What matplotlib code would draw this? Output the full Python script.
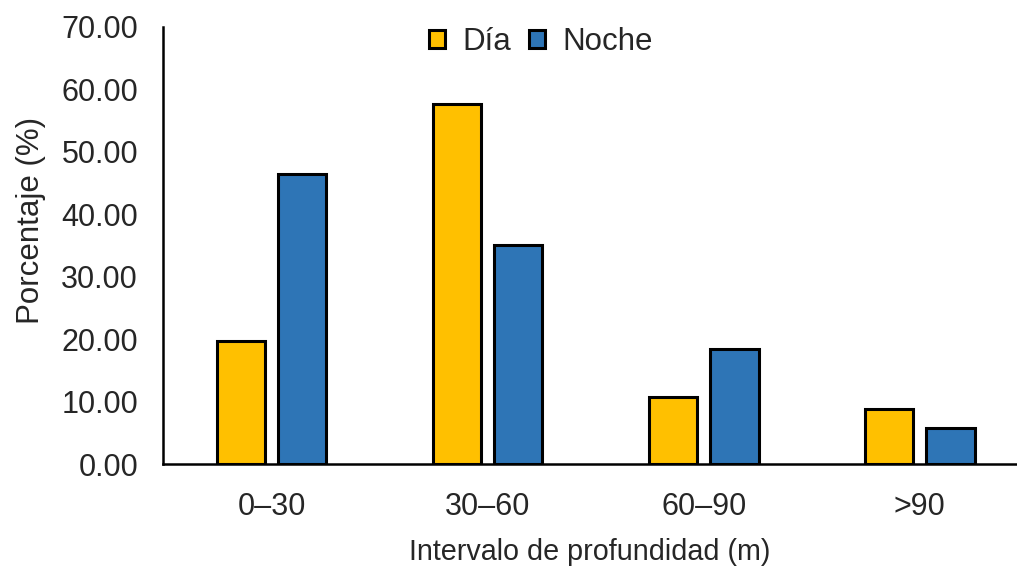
import matplotlib
matplotlib.use("Agg")
import matplotlib.pyplot as plt
import numpy as np

categories = ["0–30", "30–60", "60–90", ">90"]
dia = [19.7, 57.7, 10.7, 8.8]
noche = [46.5, 35.1, 18.4, 5.7]
yticks = [0, 10, 20, 30, 40, 50, 60, 70]

plt.rcParams['font.family'] = ['Liberation Sans', 'DejaVu Sans']
txt = "#262626"

fig = plt.figure(figsize=(10.17, 5.69), dpi=100)
ax = fig.add_axes([163/1017, 1-464/569, (1017-163)/1017, (464-27)/569])

x = np.arange(len(categories))
w = 0.224
off = 0.142
ax.bar(x - off, dia, w, color="#FFC000", edgecolor="black", linewidth=2.2, label="Día", zorder=3)
ax.bar(x + off, noche, w, color="#2E75B6", edgecolor="black", linewidth=2.2, label="Noche", zorder=3)

ax.set_xlim(-0.502, 3.45)
ax.set_ylim(0, 70)
ax.set_yticks(yticks)
ax.set_yticklabels([f"{v:.2f}" for v in yticks])
ax.set_xticks(x)
ax.set_xticklabels(categories)
ax.tick_params(axis='y', length=0, pad=18, labelsize=22, labelcolor=txt)
ax.tick_params(axis='x', length=0, pad=20, labelsize=22, labelcolor=txt)
for s in ["top", "right"]:
    ax.spines[s].set_visible(False)
for s in ["left", "bottom"]:
    ax.spines[s].set_linewidth(1.8)
    ax.spines[s].set_zorder(4)

ax.set_ylabel("Porcentaje (%)", fontsize=22.5, color=txt)
ax.yaxis.set_label_coords(-0.137, 0.558)
ax.set_xlabel("Intervalo de profundidad (m)", fontsize=20.7, color=txt, labelpad=12)

leg = ax.legend(loc="upper center", bbox_to_anchor=(0.4426, 1.065), ncol=2, frameon=False,
                fontsize=22.5, handlelength=0.5, handleheight=0.5, handletextpad=0.55,
                columnspacing=0.6)
for t in leg.get_texts():
    t.set_color(txt)
for h in leg.legend_handles:
    h.set_linewidth(2.2)

fig.savefig("out.png", dpi=100)
